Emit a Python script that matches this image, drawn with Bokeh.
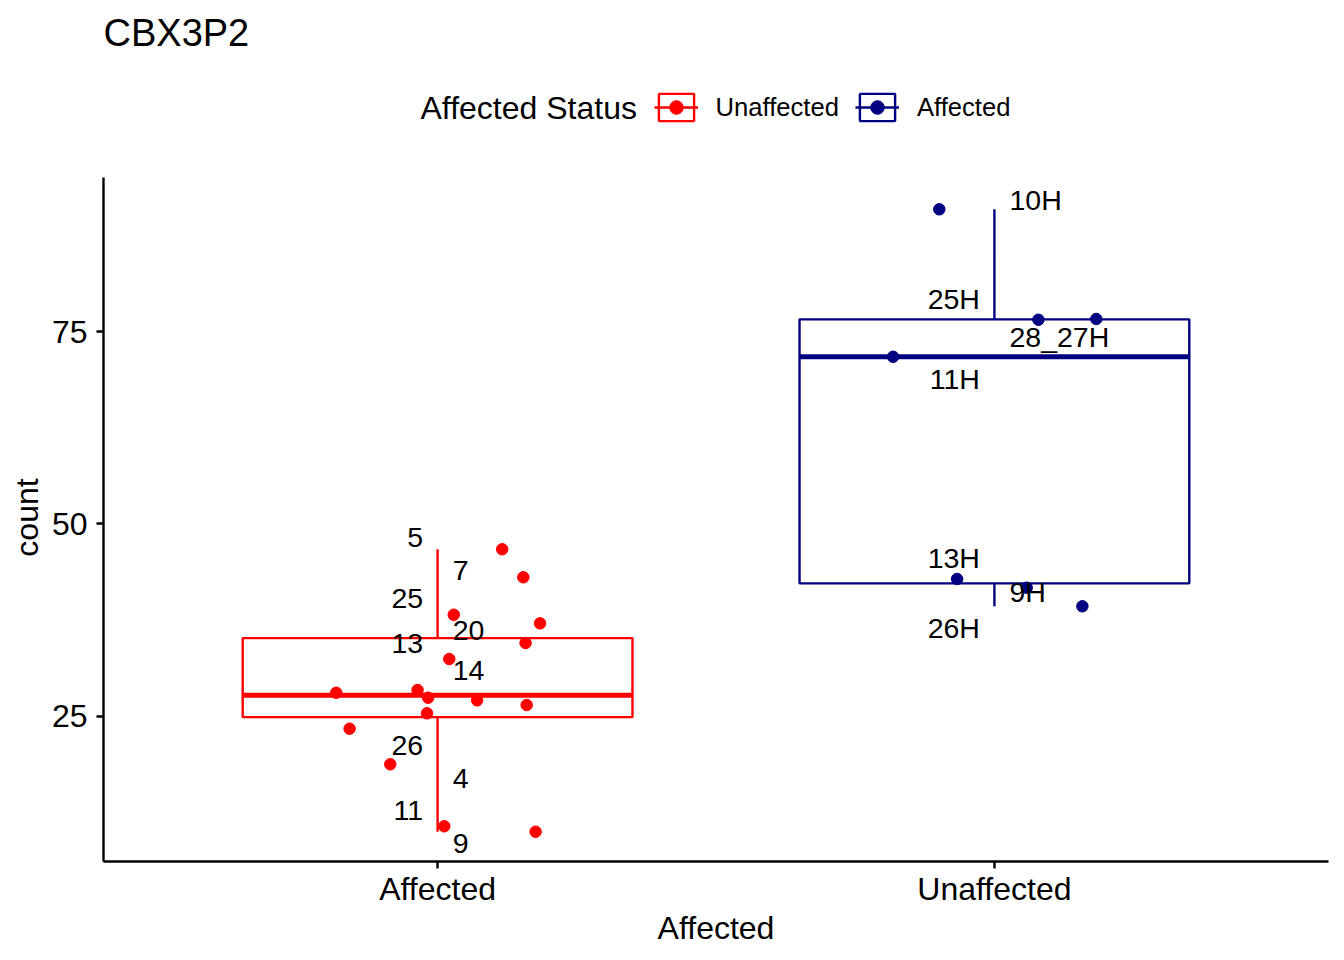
import numpy as np
from bokeh.plotting import figure
from bokeh.models import (ColumnDataSource, FactorRange, Range1d, FixedTicker,
                          Label, Legend, LegendItem, Title)
from bokeh.embed import file_html
from bokeh.resources import INLINE
from bokeh.core.properties import value

# ---------------- data ----------------
categories = ["Affected", "Unaffected"]
legend_labels = ["Unaffected", "Affected"]
group_colors = ["#FF0000", "#000080"]

affected_counts = [46.68, 43.04, 38.17, 37.05, 34.49, 32.41, 28.03, 28.38,
                   27.38, 27.04, 26.43, 25.35, 23.35, 18.72, 10.66, 9.95]
affected_jitter = [0.116, 0.154, 0.029, 0.184, 0.158, 0.021, -0.182, -0.036,
                   -0.017, 0.071, 0.160, -0.019, -0.158, -0.085, 0.012, 0.176]

unaffected_counts = [90.89, 76.53, 76.63, 71.72, 42.82, 41.68, 39.27]
unaffected_jitter = [-0.099, 0.079, 0.183, -0.182, -0.067, 0.058, 0.158]

affected_labels = ["5", "7", "25", "20", "13", "14", "26", "4", "11", "9"]
affected_label_y = [48.15, 43.89, 40.28, 36.18, 34.43, 30.89, 21.16, 16.81, 12.65, 8.36]
affected_label_side = ["L", "R", "L", "R", "L", "R", "L", "R", "L", "R"]

unaffected_labels = ["10H", "25H", "28_27H", "11H", "13H", "9H", "26H"]
unaffected_label_y = [92.06, 79.29, 74.32, 68.78, 45.51, 41.15, 36.40]
unaffected_label_side = ["R", "L", "R", "L", "L", "R", "L"]

y_ticks = [25, 50, 75]
y_axis_limits = (6.08, 94.99)

title_text = "CBX3P2"
legend_title = "Affected Status"
x_title = "Affected"
y_title = "count"

FONT = "Liberation Sans"


def box_stats(vals):
    a = np.asarray(vals, dtype=float)
    q1, med, q3 = np.percentile(a, [25, 50, 75])
    iqr = q3 - q1
    lo = a[a >= q1 - 1.5 * iqr].min()
    hi = a[a <= q3 + 1.5 * iqr].max()
    return q1, med, q3, lo, hi


# The frame reaches the top of the canvas so that the title and legend,
# drawn as annotations, are not clipped; the y axis is bounded to the panel.
W, H = 1344, 960
FRAME_L, FRAME_R, FRAME_B = 103, 1328, 861
y_lo, y_hi = y_axis_limits
panel_top_px = 177.3
px_per_unit = (FRAME_B - panel_top_px) / (y_hi - y_lo)
y_top_canvas = y_hi + panel_top_px / px_per_unit

p = figure(x_range=FactorRange(factors=categories, range_padding=0.1,
                               range_padding_units="absolute"),
           y_range=Range1d(y_lo, y_top_canvas),
           width=W, height=H, output_backend="svg", toolbar_location=None,
           min_border_left=FRAME_L, min_border_right=W - FRAME_R,
           min_border_top=0, min_border_bottom=H - FRAME_B)

p.outline_line_color = None
p.grid.grid_line_color = None
p.background_fill_color = "white"
p.border_fill_color = "white"

groups = [
    (categories[0], affected_counts, affected_jitter, group_colors[0],
     affected_labels, affected_label_y, affected_label_side),
    (categories[1], unaffected_counts, unaffected_jitter, group_colors[1],
     unaffected_labels, unaffected_label_y, unaffected_label_side),
]

legend_renderers = []
BOX_W = 0.7
OFF = -1000.0  # legend-only helper is placed far outside the visible range
for cat, vals, jit, col, labs, laby, side in groups:
    q1, med, q3, lo, hi = box_stats(vals)
    box_r = p.vbar(x=[cat], width=BOX_W, top=[q3], bottom=[q1],
                   fill_color="white", line_color=col, line_width=2.4)
    p.segment(x0=[cat, cat], x1=[cat, cat], y0=[q3, q1], y1=[hi, lo],
              line_color=col, line_width=2.4)
    p.segment(x0=[(cat, -BOX_W / 2)], x1=[(cat, BOX_W / 2)], y0=[med], y1=[med],
              line_color=col, line_width=5)
    # legend-only median key (never visible in the plot)
    leg_line = p.segment(x0=[cat], x1=[cat], y0=[OFF], y1=[OFF],
                         line_color=col, line_width=2.4)
    pts = p.scatter(x=[(cat, j) for j in jit], y=vals, size=11.5,
                    fill_color=col, line_color=col)
    legend_renderers.append([box_r, leg_line, pts])

    for s, align, off in (("L", "right", -0.026), ("R", "left", 0.027)):
        src = ColumnDataSource(dict(
            x=[(cat, off) for t, sd in zip(labs, side) if sd == s],
            y=[y for y, sd in zip(laby, side) if sd == s],
            t=[t for t, sd in zip(labs, side) if sd == s]))
        p.text(x="x", y="y", text="t", source=src, text_align=align,
               text_baseline="middle", text_font=value(FONT),
               text_font_size="28.5px", text_color="black")

# axes
for ax in (p.xaxis, p.yaxis):
    ax.axis_line_width = 2.4
    ax.axis_line_color = "black"
    ax.major_tick_line_width = 2.4
    ax.major_tick_line_color = "black"
    ax.major_tick_out = 7
    ax.major_tick_in = 0
    ax.minor_tick_line_color = None
    ax.major_label_text_font = FONT
    ax.major_label_text_font_size = "32px"
    ax.major_label_text_color = "black"
    ax.axis_label_text_font = FONT
    ax.axis_label_text_font_size = "32px"
    ax.axis_label_text_font_style = "normal"
    ax.axis_label_text_color = "black"

p.yaxis.ticker = FixedTicker(ticks=y_ticks)
p.yaxis.bounds = y_axis_limits
p.yaxis.major_label_standoff = 9
p.xaxis.axis_label = x_title
p.xaxis.major_label_standoff = 2
p.xaxis.axis_label_standoff = 0

# y-axis title centred on the bounded axis (not on the taller frame)
label_len = 74
p.add_layout(Title(text=y_title, align="left",
                   offset=(FRAME_B - (FRAME_B + panel_top_px) / 2) - label_len / 2,
                   standoff=8, text_font=FONT, text_font_size="32px",
                   text_font_style="normal", text_color="black"), "left")

# title and legend (screen units are measured from the frame's bottom-left)
p.add_layout(Label(x=0, y=FRAME_B - 32, x_units="screen", y_units="screen",
                   text=title_text, text_font=FONT, text_font_size="38px",
                   text_baseline="middle", text_align="left", text_color="black"))
p.add_layout(Label(x=420 - FRAME_L, y=FRAME_B - 107, x_units="screen", y_units="screen",
                   text=legend_title, text_font=FONT, text_font_size="32px",
                   text_baseline="middle", text_align="left", text_color="black"))

legend = Legend(items=[LegendItem(label=legend_labels[i], renderers=legend_renderers[i])
                       for i in range(2)],
                location=(653.6 - FRAME_L, FRAME_B - 124), orientation="horizontal",
                glyph_width=44, glyph_height=34, label_height=34,
                label_standoff=18, spacing=16, padding=0, margin=0,
                border_line_color=None, background_fill_alpha=0,
                label_text_font=FONT, label_text_font_size="25.6px",
                label_text_color="black")
p.add_layout(legend)

open("out.html", "w").write(file_html(p, INLINE))
